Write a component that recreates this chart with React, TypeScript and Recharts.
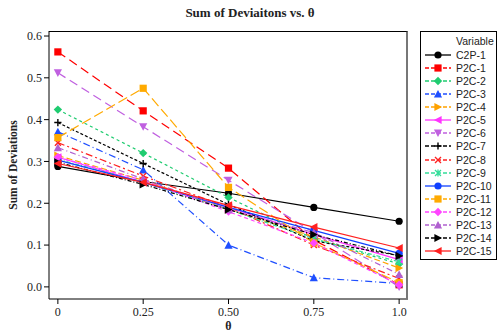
import React from 'react'
import { LineChart, Line, XAxis, YAxis } from 'recharts'

// theta values on the x axis
const thetas = [0, 0.25, 0.5, 0.75, 1.0]
const thetaLabels = ['0', '0.25', '0.50', '0.75', '1.0']
const yTicks = [0, 0.1, 0.2, 0.3, 0.4, 0.5, 0.6]

// sum of deviations per variable
const c2p1 = [0.288, 0.252, 0.224, 0.19, 0.157]
const p2c1 = [0.562, 0.421, 0.284, 0.112, 0.005]
const p2c2 = [0.424, 0.32, 0.214, 0.115, 0.055]
const p2c3 = [0.371, 0.28, 0.1, 0.022, 0.008]
const p2c4 = [0.314, 0.255, 0.185, 0.12, 0.045]
const p2c5 = [0.31, 0.25, 0.19, 0.125, 0.065]
const p2c6 = [0.512, 0.383, 0.255, 0.13, 0.0]
const p2c7 = [0.393, 0.295, 0.197, 0.11, 0.075]
const p2c8 = [0.345, 0.265, 0.19, 0.1, 0.02]
const p2c9 = [0.305, 0.25, 0.185, 0.115, 0.06]
const p2c10 = [0.303, 0.25, 0.19, 0.135, 0.08]
const p2c11 = [0.357, 0.475, 0.238, 0.105, 0.01]
const p2c12 = [0.31, 0.255, 0.18, 0.105, 0.005]
const p2c13 = [0.333, 0.258, 0.185, 0.13, 0.03]
const p2c14 = [0.298, 0.245, 0.185, 0.125, 0.074]
const p2c15 = [0.295, 0.25, 0.195, 0.143, 0.093]

type Shape = 'circle' | 'square' | 'diamond' | 'up' | 'right' | 'left' | 'down' | 'plus' | 'cross' | 'star'

interface SeriesDef {
  name: string
  values: number[]
  color: string
  dash?: string
  shape: Shape
}

const series: SeriesDef[] = [
  { name: 'C2P-1', values: c2p1, color: '#000000', shape: 'circle' },
  { name: 'P2C-1', values: p2c1, color: '#ff0000', dash: '9 5', shape: 'square' },
  { name: 'P2C-2', values: p2c2, color: '#1fcc70', dash: '3 3', shape: 'diamond' },
  { name: 'P2C-3', values: p2c3, color: '#1f4fff', dash: '7 3 1 3', shape: 'up' },
  { name: 'P2C-4', values: p2c4, color: '#ffa200', dash: '6 3', shape: 'right' },
  { name: 'P2C-5', values: p2c5, color: '#ff33ff', shape: 'left' },
  { name: 'P2C-6', values: p2c6, color: '#c060e0', dash: '9 5', shape: 'down' },
  { name: 'P2C-7', values: p2c7, color: '#000000', dash: '3 2', shape: 'plus' },
  { name: 'P2C-8', values: p2c8, color: '#ff2020', dash: '7 3 2 3', shape: 'cross' },
  { name: 'P2C-9', values: p2c9, color: '#33dd99', dash: '4 2 1 2', shape: 'star' },
  { name: 'P2C-10', values: p2c10, color: '#1040ff', shape: 'circle' },
  { name: 'P2C-11', values: p2c11, color: '#ffaa00', dash: '10 4', shape: 'square' },
  { name: 'P2C-12', values: p2c12, color: '#ff44ff', dash: '4 3', shape: 'diamond' },
  { name: 'P2C-13', values: p2c13, color: '#b060d0', dash: '6 3 1 3', shape: 'up' },
  { name: 'P2C-14', values: p2c14, color: '#000000', dash: '4 2 1 2', shape: 'right' },
  { name: 'P2C-15', values: p2c15, color: '#ff2020', shape: 'left' },
]

const chartData = thetas.map((t, i) => {
  const row: Record<string, number> = { theta: t }
  series.forEach(s => { row[s.name] = s.values[i] })
  return row
})

function marker(shape: Shape, color: string, cx: number, cy: number, key?: string | number) {
  const r = 3.6
  switch (shape) {
    case 'circle':
      return <circle key={key} cx={cx} cy={cy} r={r} fill={color} />
    case 'square':
      return <rect key={key} x={cx - r} y={cy - r} width={r * 2} height={r * 2} fill={color} />
    case 'diamond':
      return <polygon key={key} points={`${cx},${cy - r - 0.6} ${cx + r + 0.6},${cy} ${cx},${cy + r + 0.6} ${cx - r - 0.6},${cy}`} fill={color} />
    case 'up':
      return <polygon key={key} points={`${cx},${cy - r - 0.5} ${cx + r + 0.5},${cy + r} ${cx - r - 0.5},${cy + r}`} fill={color} />
    case 'down':
      return <polygon key={key} points={`${cx},${cy + r + 0.5} ${cx + r + 0.5},${cy - r} ${cx - r - 0.5},${cy - r}`} fill={color} />
    case 'right':
      return <polygon key={key} points={`${cx + r + 0.5},${cy} ${cx - r},${cy - r - 0.5} ${cx - r},${cy + r + 0.5}`} fill={color} />
    case 'left':
      return <polygon key={key} points={`${cx - r - 0.5},${cy} ${cx + r},${cy - r - 0.5} ${cx + r},${cy + r + 0.5}`} fill={color} />
    case 'plus':
      return <path key={key} d={`M${cx - r},${cy}H${cx + r}M${cx},${cy - r}V${cy + r}`} stroke={color} strokeWidth={1.4} />
    case 'cross':
      return <path key={key} d={`M${cx - 3},${cy - 3}L${cx + 3},${cy + 3}M${cx + 3},${cy - 3}L${cx - 3},${cy + 3}`} stroke={color} strokeWidth={1.4} />
    case 'star':
      return <path key={key} d={`M${cx - 3},${cy - 3}L${cx + 3},${cy + 3}M${cx + 3},${cy - 3}L${cx - 3},${cy + 3}M${cx},${cy - r}V${cy + r}`} stroke={color} strokeWidth={1.3} />
  }
}

const serif = '"Liberation Serif", "DejaVu Serif", serif'

function LegendBox() {
  return (
    <div
      style={{
        position: 'absolute',
        left: 420,
        top: 31,
        width: 75,
        height: 227,
        border: '1px solid #000',
        background: '#fff',
        fontFamily: '"Liberation Sans", Arial, sans-serif',
        fontSize: 10.5,
        color: '#222',
      }}
    >
      <div style={{ position: 'absolute', left: 35, top: 3 }}>Variable</div>
      {series.map((s, i) => (
        <div key={s.name} style={{ position: 'absolute', left: 0, top: 16 + i * 13.13, height: 13, display: 'flex', alignItems: 'center' }}>
          <svg width={34} height={12} style={{ display: 'block' }}>
            <line x1={4} y1={6} x2={30} y2={6} stroke={s.color} strokeWidth={1.3} strokeDasharray={s.dash ? '4 2' : undefined} />
            {marker(s.shape, s.color, 17, 6)}
          </svg>
          <span style={{ marginLeft: 1 }}>{s.name}</span>
        </div>
      ))}
    </div>
  )
}

export default function App() {
  return (
    <div style={{ position: 'absolute', left: 0, top: 0, width: 497, height: 333, background: '#fff' }}>
      <div
        style={{
          position: 'absolute',
          left: 0,
          width: 500,
          top: 5,
          textAlign: 'center',
          fontFamily: serif,
          fontWeight: 'bold',
          fontSize: 13,
          color: '#222',
        }}
      >
        Sum of Deviaitons vs. θ
      </div>
      <LineChart
        width={497}
        height={333}
        data={chartData}
        margin={{ top: 31, right: 89, bottom: 0, left: 0 }}
      >
        <XAxis
          dataKey="theta"
          type="number"
          domain={[-0.026, 1.026]}
          ticks={thetas}
          allowDataOverflow
          tickFormatter={(v: number) => thetaLabels[thetas.indexOf(v)] ?? String(v)}
          height={34}
          stroke="#000"
          tickSize={5}
          tickMargin={3}
          tick={{ fill: '#222', fontSize: 12, fontFamily: serif }}
          label={{ value: 'θ', position: 'insideBottom', offset: 3, style: { fill: '#222', fontSize: 12, fontWeight: 'bold', fontFamily: serif } }}
        />
        <YAxis
          type="number"
          domain={[-0.029, 0.612]}
          ticks={yTicks}
          allowDataOverflow
          width={49}
          stroke="#000"
          tickSize={5}
          tickMargin={2}
          tickFormatter={(v: number) => v.toFixed(1)}
          tick={{ fill: '#222', fontSize: 12, fontFamily: serif }}
          label={{ value: 'Sum of Deviations', angle: -90, position: 'insideLeft', offset: 13, style: { textAnchor: 'middle', fill: '#222', fontSize: 11.5, fontWeight: 'bold', fontFamily: serif } }}
        />
        {series.map(s => (
          <Line
            key={s.name}
            dataKey={s.name}
            name={s.name}
            stroke={s.color}
            strokeWidth={1.2}
            strokeDasharray={s.dash}
            isAnimationActive={false}
            dot={(p: any) => marker(s.shape, s.color, p.cx, p.cy, `${s.name}-${p.index}`)}
            activeDot={false}
          />
        ))}
      </LineChart>
      {/* plot frame: top edge and shaded right edge */}
      <div
        style={{
          position: 'absolute',
          left: 49,
          top: 31,
          width: 359,
          height: 268,
          borderTop: '1px solid #000',
          borderRight: '2px solid #777',
          boxSizing: 'border-box',
          pointerEvents: 'none',
        }}
      />
      <LegendBox />
    </div>
  )
}
